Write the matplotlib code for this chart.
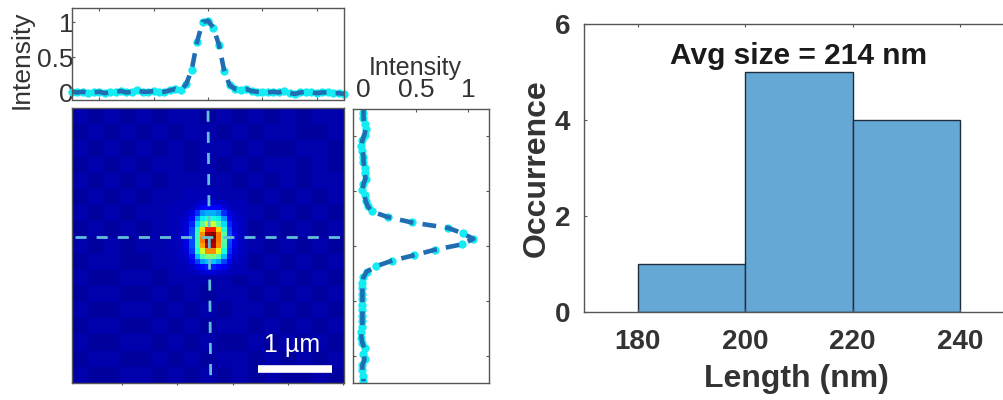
import numpy as np
import matplotlib
matplotlib.use("Agg")
import matplotlib.pyplot as plt

plt.rcParams["font.family"] = ["Liberation Sans", "DejaVu Sans"]

W, H = 1004, 400
TXT = "#333333"
SPINE = "#555555"
DARK = "#1f6db3"
CYAN = "#12ecf2"
DASH = "#62bfd8"

# ===== DATA =====
top_profile = [0.01, 0.0, 0.01, -0.01, 0.0, 0.01, -0.01, 0.0, 0.01, 0.02,
               0.0, 0.01, 0.03, 0.01, 0.01, 0.02, 0.0, 0.01, 0.03, 0.05,
               0.03, 0.12, 0.32, 0.72, 1.0, 1.02, 0.92, 0.68, 0.3, 0.1,
               0.05, 0.04, 0.05, 0.02, 0.01, 0.0, 0.0, 0.01, 0.0, 0.02,
               -0.01, -0.02, 0.0, 0.01, 0.0, -0.01, 0.0, 0.0, -0.01, -0.01, -0.02]

side_profile = [0.0, 0.0, 0.0, 0.01, 0.02, 0.01, -0.01, -0.02, -0.01, 0.0,
                0.0, 0.01, 0.01, 0.02, 0.0, -0.01, 0.01, 0.02, 0.04, 0.08,
                0.23, 0.46, 0.81, 0.95, 1.05, 0.94, 0.68, 0.48, 0.27, 0.12,
                0.03, 0.0, -0.01, -0.01, -0.01, -0.01, -0.01, -0.01, -0.01, -0.01,
                -0.01, -0.02, -0.02, -0.01, 0.01, 0.0, 0.01, -0.01, -0.01, 0.0, 0.0]

# coarse background level, 17 x 17 blocks
background = np.array([
    [.04, .03, .04, .03, .04, .03, .04, .04, .03, .04, .03, .04, .03, .04, .03, .04, .04],
    [.03, .04, .03, .04, .03, .04, .03, .04, .04, .03, .04, .03, .04, .04, .03, .03, .04],
    [.04, .03, .04, .03, .04, .03, .04, .03, .04, .04, .03, .04, .03, .03, .04, .04, .03],
    [.03, .04, .03, .04, .03, .04, .04, .03, .04, .03, .04, .03, .04, .04, .03, .04, .03],
    [.04, .03, .04, .03, .04, .03, .04, .04, .04, .04, .03, .04, .03, .04, .03, .04, .04],
    [.03, .04, .03, .04, .03, .04, .04, .05, .05, .04, .04, .03, .04, .03, .04, .03, .04],
    [.04, .03, .04, .03, .04, .04, .05, .05, .05, .05, .04, .04, .03, .04, .03, .04, .03],
    [.03, .04, .03, .04, .03, .04, .05, .05, .05, .05, .04, .03, .04, .03, .04, .03, .04],
    [.04, .03, .04, .03, .04, .04, .05, .05, .05, .05, .04, .04, .03, .04, .03, .04, .03],
    [.03, .04, .04, .03, .03, .04, .04, .05, .05, .04, .04, .03, .04, .03, .04, .03, .04],
    [.04, .03, .03, .04, .04, .03, .04, .04, .04, .04, .03, .04, .03, .04, .03, .04, .03],
    [.03, .04, .04, .03, .03, .04, .03, .04, .03, .04, .04, .03, .04, .03, .04, .03, .04],
    [.04, .03, .03, .04, .04, .03, .04, .03, .04, .03, .04, .04, .03, .04, .03, .04, .03],
    [.03, .04, .04, .03, .03, .04, .03, .04, .03, .04, .04, .03, .04, .03, .04, .03, .04],
    [.04, .03, .03, .04, .04, .03, .04, .03, .04, .03, .03, .04, .03, .04, .03, .04, .03],
    [.03, .04, .04, .03, .03, .04, .03, .04, .03, .04, .04, .03, .04, .03, .04, .03, .04],
    [.04, .03, .03, .04, .04, .03, .04, .03, .04, .03, .04, .03, .04, .03, .03, .04, .03],
])

# bright spot, rows 17-30, cols 19-32
spot = np.array([
    [.05, .05, .05, .05, .06, .07, .07, .07, .07, .06, .05, .05, .05, .05],
    [.05, .05, .05, .06, .08, .11, .13, .13, .11, .08, .06, .05, .05, .05],
    [.05, .05, .06, .09, .17, .27, .30, .30, .27, .17, .09, .06, .05, .05],
    [.05, .06, .07, .13, .27, .36, .38, .38, .36, .27, .13, .07, .06, .05],
    [.05, .06, .08, .16, .34, .46, .60, .60, .46, .34, .16, .08, .06, .05],
    [.05, .06, .08, .19, .40, .68, .88, .88, .68, .40, .19, .08, .06, .05],
    [.05, .06, .09, .20, .42, .76, .98, 1.0, .78, .46, .20, .09, .06, .05],
    [.05, .06, .09, .20, .42, .78, 1.0, .98, .78, .46, .20, .09, .06, .05],
    [.05, .06, .09, .20, .42, .74, .95, .95, .76, .44, .19, .09, .06, .05],
    [.05, .06, .08, .18, .38, .60, .76, .76, .62, .38, .17, .08, .06, .05],
    [.05, .06, .07, .14, .31, .44, .50, .50, .44, .31, .14, .07, .06, .05],
    [.05, .05, .06, .10, .19, .28, .32, .32, .28, .19, .10, .06, .05, .05],
    [.05, .05, .05, .07, .10, .13, .15, .15, .13, .10, .07, .05, .05, .05],
    [.05, .05, .05, .05, .06, .07, .08, .08, .07, .06, .05, .05, .05, .05],
])
spot_row, spot_col = 17, 19

hist_edges = [180, 200, 220, 240]
hist_counts = [1, 5, 4]

intensity_ticks = [0, 0.5, 1]
intensity_labels = ["0", "0.5", "1"]
length_ticks = [180, 200, 220, 240]
count_ticks = [0, 2, 4, 6]

image = np.kron(background, np.ones((3, 3)))
image[spot_row:spot_row + spot.shape[0], spot_col:spot_col + spot.shape[1]] = spot


def add_axes(x0, y0, x1, y1):
    # pixel box, y measured from the top
    return fig.add_axes([x0 / W, 1 - y1 / H, (x1 - x0) / W, (y1 - y0) / H])


def style(ax):
    for s in ax.spines.values():
        s.set_color(SPINE)
        s.set_linewidth(1.0)


fig = plt.figure(figsize=(W / 100, H / 100), dpi=100)

# ===== TOP PROFILE =====
ax_top = add_axes(72, 8, 344, 99.5)
style(ax_top)
xs = np.arange(len(top_profile))
ax_top.plot(xs, top_profile, ls="none", marker="o", ms=6, mew=0, color=CYAN, clip_on=False)
ax_top.plot(xs, top_profile, color=DARK, lw=3.3, dashes=(3, 2))
ax_top.set_xlim(0, 50)
ax_top.set_ylim(-0.1, 1.2)
ax_top.set_xticks([5, 15, 25, 35, 45])
ax_top.set_xticklabels([])
ax_top.set_yticks(intensity_ticks)
ax_top.set_yticklabels(intensity_labels, fontsize=19, color=TXT)
ax_top.tick_params(direction="in", length=2.5, top=True, color=SPINE)
ax_top.yaxis.set_tick_params(pad=-1)
ax_top.set_ylabel("Intensity", fontsize=19, color=TXT)
ax_top.yaxis.set_label_coords(-0.14, 0.43)

# ===== IMAGE =====
ax_img = add_axes(72, 108, 344, 383)
style(ax_img)
ax_img.imshow(image, cmap="jet", vmin=0, vmax=1, extent=(0, 51, 51, 0),
              aspect="auto", interpolation="nearest")
ax_img.plot([25.5, 26], [0.5, 50], color=DASH, lw=2, dashes=(4, 3.6))
ax_img.plot([0.5, 51], [24, 24], color=DASH, lw=2, dashes=(4, 3.6))
ax_img.set_xticks([9.4, 19.7, 30.2, 40.5, 50.8])
ax_img.set_xticklabels([])
ax_img.set_yticks([])
ax_img.tick_params(direction="out", length=1.5, color=SPINE)
# scale bar
ax_img.plot([34.8, 48.7], [48.4, 48.4], color="white", lw=5.5, solid_capstyle="butt")
ax_img.text(41.2, 45.3, "1 µm", color="white", fontsize=18, ha="center", va="baseline")

# ===== SIDE PROFILE =====
ax_side = add_axes(353, 109, 489, 383)
style(ax_side)
ys = np.arange(len(side_profile)) - 0.3
ax_side.plot(side_profile, ys, ls="none", marker="o", ms=6, mew=0, color=CYAN)
ax_side.plot(side_profile, ys, color=DARK, lw=3.3, dashes=(3, 2))
ax_side.set_xlim(-0.1, 1.2)
ax_side.set_ylim(50, 0)
ax_side.set_yticks([5, 15, 25, 35, 45])
ax_side.set_yticklabels([])
ax_side.set_xticks(intensity_ticks)
ax_side.set_xticklabels(intensity_labels, fontsize=19, color=TXT)
ax_side.xaxis.tick_top()
ax_side.tick_params(direction="in", length=2.5, left=True, right=True, color=SPINE)
ax_side.tick_params(axis="x", pad=5)
ax_side.set_xlabel("Intensity", fontsize=18, color=TXT)
ax_side.xaxis.set_label_position("top")
ax_side.xaxis.set_label_coords(0.456, 1.125)

# ===== HISTOGRAM =====
ax_hist = add_axes(584, 24, 1121, 312)
style(ax_hist)
ax_hist.bar(hist_edges[:-1], hist_counts, width=20, align="edge",
            color="#65a8d6", edgecolor="#1f2d3a", linewidth=1)
ax_hist.set_xlim(170, 270)
ax_hist.set_ylim(0, 6)
ax_hist.set_xticks(length_ticks)
ax_hist.set_yticks(count_ticks)
ax_hist.set_xticklabels(length_ticks, fontsize=20, fontweight="bold", color=TXT)
ax_hist.set_yticklabels(count_ticks, fontsize=20, fontweight="bold", color=TXT)
ax_hist.tick_params(direction="in", length=2.5, top=True, color=SPINE)
ax_hist.tick_params(axis="x", pad=12)
ax_hist.tick_params(axis="y", pad=10)
ax_hist.text(210, 5.33, "Avg size = 214 nm", fontsize=21.5, fontweight="bold",
             color="#1a1a1a", ha="center", va="center")
fig.text(796 / W, 1 - 379 / H, "Length (nm)", fontsize=23, fontweight="bold",
         color=TXT, ha="center", va="center")
fig.text(537 / W, 1 - 168 / H, "Occurrence", fontsize=23, fontweight="bold",
         color=TXT, ha="center", va="center", rotation=90)

fig.savefig("out.png", dpi=100)
